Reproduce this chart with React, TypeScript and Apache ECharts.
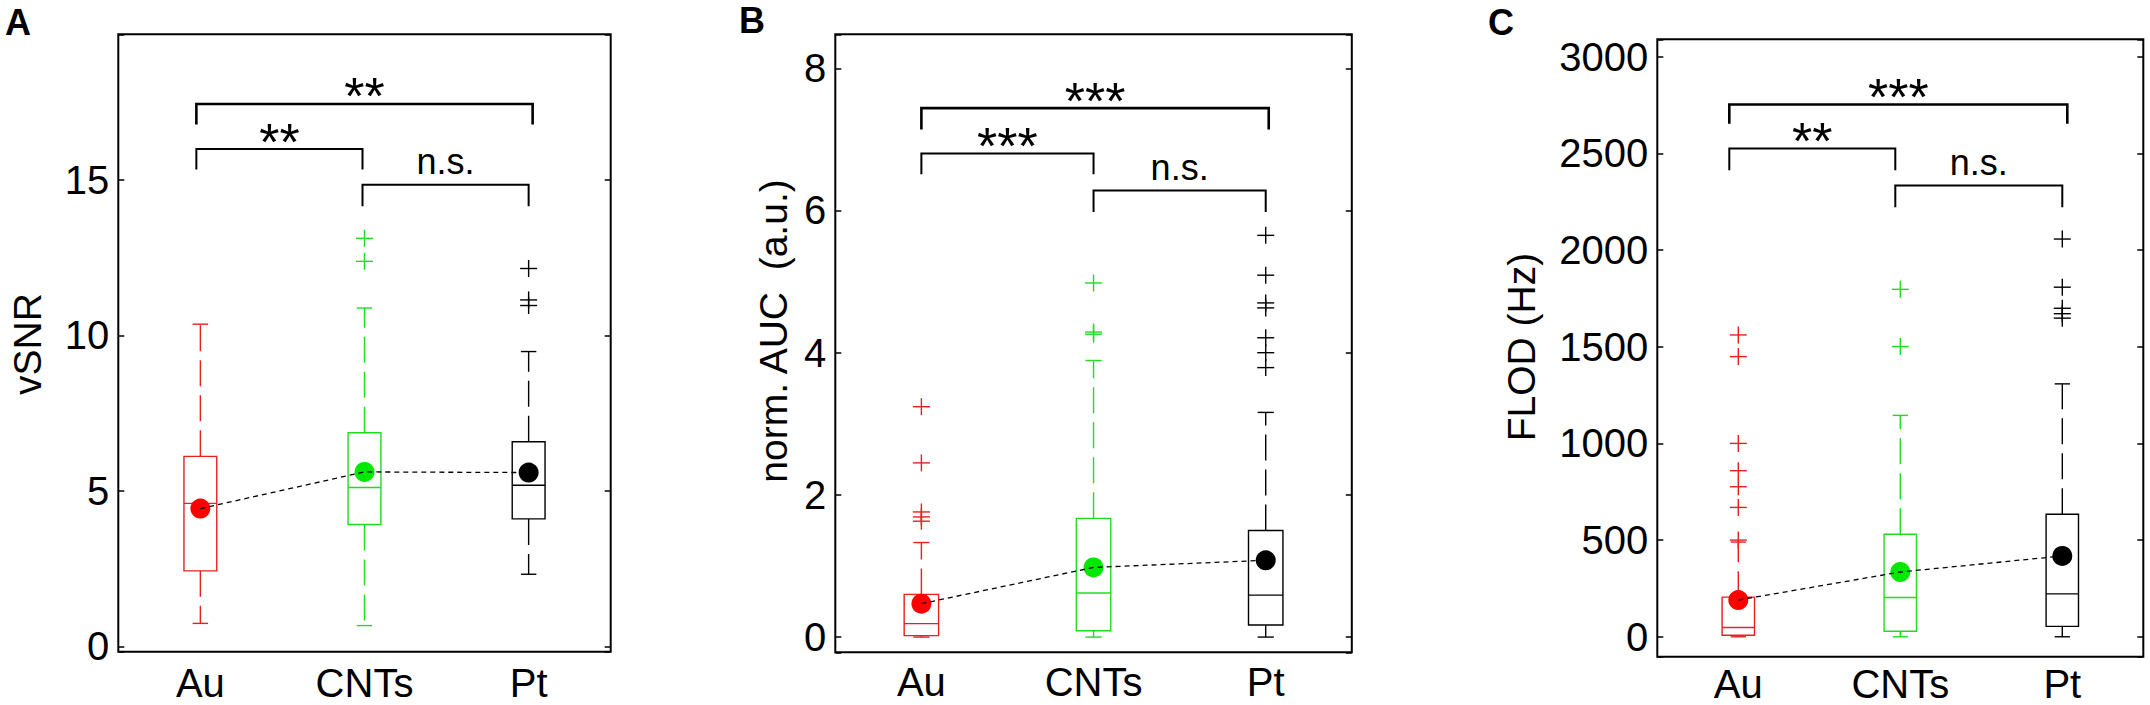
import React, { useEffect, useRef } from "react";
import * as echarts from "echarts";

// ---------- data ----------
const categories = ["Au", "CNTs", "Pt"];

// Panel A: vSNR  [min, Q1, median, Q3, max]
const vsnrBox = [
  [0.74, 2.43, 4.6, 6.11, 10.36],
  [0.67, 3.92, 5.11, 6.87, 10.88],
  [2.32, 4.1, 5.18, 6.58, 9.48],
];
const vsnrOutliers = [[], [12.38, 13.12], [10.96, 11.14, 12.15]];
const vsnrMean = [4.43, 5.61, 5.59];
const vsnrTicks = [0, 5, 10, 15];
const vsnrBrackets = [
  [0, 2, 17.44, 16.78],
  [0, 1, 15.99, 15.33],
  [1, 2, 14.84, 14.15],
];
const vsnrBracketLabels = ["**", "**", "n.s."];

// Panel B: norm. AUC
const aucBox = [
  [0, 0.02, 0.19, 0.6, 1.33],
  [0, 0.09, 0.62, 1.67, 3.89],
  [0, 0.17, 0.59, 1.5, 3.16],
];
const aucOutliers = [
  [1.63, 1.69, 1.76, 2.45, 3.24],
  [4.26, 4.29, 4.98],
  [3.79, 4.0, 4.21, 4.63, 4.7, 5.09, 5.65],
];
const aucMean = [0.47, 0.98, 1.08];
const aucTicks = [0, 2, 4, 6, 8];
const aucBrackets = [
  [0, 2, 7.44, 7.14],
  [0, 1, 6.8, 6.51],
  [1, 2, 6.28, 5.98],
];
const aucBracketLabels = ["***", "***", "n.s."];

// Panel C: FLOD (Hz)
const flodBox = [
  [0, 8, 48, 205, 490],
  [0, 29, 203, 530, 1145],
  [0, 54, 222, 634, 1308],
];
const flodOutliers = [
  [500, 669, 776, 859, 1000, 1449, 1561],
  [1501, 1797],
  [1648, 1671, 1699, 1808, 2057],
];
const flodMean = [190, 335, 418];
const flodTicks = [0, 500, 1000, 1500, 2000, 2500, 3000];
const flodBrackets = [
  [0, 2, 2753, 2653],
  [0, 1, 2525, 2413],
  [1, 2, 2334, 2222],
];
const flodBracketLabels = ["***", "**", "n.s."];

const yTitles = ["vSNR", "norm. AUC  (a.u.)", "FLOD (Hz)"];
const panelLetters = ["A", "B", "C"];

// ---------- layout / style ----------
const FONT = '"Liberation Sans", Arial, Helvetica, sans-serif';
const lineColors = ["#e82020", "#20dc20", "#000000"];
const dotColors = ["#ff0000", "#00e800", "#000000"];

const panels = [
  {
    grid: { left: 118.3, top: 34.3, width: 492.4, height: 617.4 },
    yMin: -0.17, yMax: 19.68, xMargin: 13,
    box: vsnrBox, out: vsnrOutliers, mean: vsnrMean, ticks: vsnrTicks,
    br: vsnrBrackets, brLabels: vsnrBracketLabels,
    brNudge: [[-4, 4], [-4, -2], [-2, 0]],
    letter: { x: 5, y: 22 }, title: { x: 27, y: 344 },
  },
  {
    grid: { left: 835.3, top: 34.3, width: 516.5, height: 618 },
    yMin: -0.214, yMax: 8.478, xMargin: 12,
    box: aucBox, out: aucOutliers, mean: aucMean, ticks: aucTicks,
    br: aucBrackets, brLabels: aucBracketLabels,
    brNudge: [[0, 3], [0, 0], [0, 0]],
    letter: { x: 739, y: 20 }, title: { x: 773, y: 331 },
  },
  {
    grid: { left: 1657.3, top: 39.3, width: 486, height: 617.4 },
    yMin: -103, yMax: 3090, xMargin: 9.5,
    box: flodBox, out: flodOutliers, mean: flodMean, ticks: flodTicks,
    br: flodBrackets, brLabels: flodBracketLabels,
    brNudge: [[-9, 5], [-9, -5], [-5, 0]],
    letter: { x: 1488, y: 22 }, title: { x: 1521, y: 347 },
  },
];

function buildOption() {
  const grid: any[] = [];
  const xAxis: any[] = [];
  const yAxis: any[] = [];
  const series: any[] = [];
  const graphic: any[] = [];

  panels.forEach((p, k) => {
    grid.push({
      ...p.grid,
      show: true,
      borderColor: "#000",
      borderWidth: 2,
      backgroundColor: "transparent",
    });
    xAxis.push({
      type: "category",
      gridIndex: k,
      data: categories,
      axisLine: { show: false },
      axisTick: { show: false },
      splitLine: { show: false },
      axisLabel: {
        fontSize: 40,
        lineHeight: 36,
        color: "#000",
        fontFamily: FONT,
        margin: p.xMargin,
      },
    });
    const step = p.ticks[1] - p.ticks[0];
    ["left", "right"].forEach((side) => {
      yAxis.push({
        type: "value",
        gridIndex: k,
        position: side,
        min: p.yMin,
        max: p.yMax,
        minInterval: step,
        maxInterval: step,
        axisLine: { show: false },
        splitLine: { show: false },
        axisTick: {
          show: true,
          inside: true,
          length: 6,
          lineStyle: { color: "#000", width: 1.5 },
        },
        axisLabel: {
          show: side === "left",
          fontSize: 40,
          color: "#000",
          fontFamily: FONT,
          margin: 9,
          formatter: (v: number) => {
            const t = p.ticks.find((tt) => Math.abs(tt - v) < 1e-6);
            return t === undefined ? "" : String(t);
          },
        },
      });
    });

    const yIdx = 2 * k;

    // boxes + whiskers
    series.push({
      type: "custom",
      xAxisIndex: k,
      yAxisIndex: yIdx,
      encode: { x: 0, y: [1, 2, 3, 4, 5] },
      data: p.box.map((b, i) => [i, ...b]),
      z: 2,
      renderItem: (params: any, api: any) => {
        const i = api.value(0);
        const lo = api.value(1), q1 = api.value(2), md = api.value(3);
        const q3 = api.value(4), hi = api.value(5);
        const band = api.size([1, 0])[0];
        const cx = api.coord([i, md])[0];
        const y = (v: number) => api.coord([i, v])[1];
        const hw = band * 0.1;
        const cw = band * 0.047;
        const stroke = lineColors[i];
        const solid = { stroke, lineWidth: 1.4, fill: "none" };
        const dashed = { stroke, lineWidth: 1.4, lineDash: [26, 9] };
        return {
          type: "group",
          children: [
            { type: "rect", shape: { x: cx - hw, y: y(q3), width: 2 * hw, height: y(q1) - y(q3) }, style: solid },
            { type: "line", shape: { x1: cx - hw, y1: y(md), x2: cx + hw, y2: y(md) }, style: solid },
            { type: "line", shape: { x1: cx, y1: y(q3), x2: cx, y2: y(hi) }, style: dashed },
            { type: "line", shape: { x1: cx, y1: y(q1), x2: cx, y2: y(lo) }, style: dashed },
            { type: "line", shape: { x1: cx - cw, y1: y(hi), x2: cx + cw, y2: y(hi) }, style: solid },
            { type: "line", shape: { x1: cx - cw, y1: y(lo), x2: cx + cw, y2: y(lo) }, style: solid },
          ],
        };
      },
    });

    // outliers (+)
    const outData: number[][] = [];
    p.out.forEach((arr, i) => arr.forEach((v) => outData.push([i, v])));
    series.push({
      type: "custom",
      xAxisIndex: k,
      yAxisIndex: yIdx,
      encode: { x: 0, y: 1 },
      data: outData,
      z: 2,
      renderItem: (params: any, api: any) => {
        const i = api.value(0);
        const pt = api.coord([i, api.value(1)]);
        const h = 8.5;
        const st = { stroke: lineColors[i], lineWidth: 1.4 };
        return {
          type: "group",
          children: [
            { type: "line", shape: { x1: pt[0] - h, y1: pt[1], x2: pt[0] + h, y2: pt[1] }, style: st },
            { type: "line", shape: { x1: pt[0], y1: pt[1] - h, x2: pt[0], y2: pt[1] + h }, style: st },
          ],
        };
      },
    });

    // means
    series.push({
      type: "scatter",
      xAxisIndex: k,
      yAxisIndex: yIdx,
      symbol: "circle",
      symbolSize: 20,
      z: 3,
      itemStyle: { opacity: 1 },
      data: p.mean.map((v, i) => ({
        value: [i, v],
        itemStyle: { color: dotColors[i], opacity: 1 },
      })),
    });
    series.push({
      type: "line",
      xAxisIndex: k,
      yAxisIndex: yIdx,
      symbol: "none",
      showSymbol: false,
      z: 4,
      lineStyle: { color: "#000", width: 1.3, type: [5, 4] },
      data: p.mean.map((v, i) => [i, v]),
    });

    // significance brackets
    series.push({
      type: "custom",
      xAxisIndex: k,
      yAxisIndex: yIdx,
      encode: { x: 0, y: 2 },
      data: p.br,
      z: 5,
      renderItem: (params: any, api: any) => {
        const idx = params.dataIndex;
        const i1 = api.value(0), i2 = api.value(1);
        const yb = api.coord([i1, api.value(2)])[1];
        const yl = api.coord([i1, api.value(3)])[1];
        const nudge = p.brNudge[idx];
        const x1 = api.coord([i1, 0])[0] + nudge[0];
        const x2 = api.coord([i2, 0])[0] + nudge[1];
        const label = p.brLabels[idx];
        const lw = idx === 0 ? 2.6 : 2;
        const st = { stroke: "#000", lineWidth: lw, fill: "none" };
        const isNs = label === "n.s.";
        return {
          type: "group",
          children: [
            { type: "polyline", shape: { points: [[x1, yl], [x1, yb], [x2, yb], [x2, yl]] }, style: st },
            {
              type: "text",
              x: (x1 + x2) / 2,
              y: isNs ? yb - 23 : yb - 7.5,
              style: {
                text: label,
                fill: "#000",
                fontSize: isNs ? 36 : 52,
                fontFamily: FONT,
                align: "center",
                verticalAlign: "middle",
              },
            },
          ],
        };
      },
    });

    graphic.push({
      type: "text",
      x: p.letter.x,
      y: p.letter.y,
      style: {
        text: panelLetters[k],
        fill: "#000",
        fontSize: 36,
        fontWeight: "bold",
        fontFamily: FONT,
        align: "left",
        verticalAlign: "middle",
      },
    });
    graphic.push({
      type: "text",
      x: p.title.x,
      y: p.title.y,
      rotation: Math.PI / 2,
      style: {
        text: yTitles[k],
        fill: "#000",
        fontSize: 39,
        fontFamily: FONT,
        align: "center",
        verticalAlign: "middle",
      },
    });
  });

  return {
    animation: false,
    backgroundColor: "#ffffff",
    grid,
    xAxis,
    yAxis,
    series,
    graphic,
  };
}

export default function App() {
  const ref = useRef<HTMLDivElement>(null);
  useEffect(() => {
    if (!ref.current) return;
    const chart = echarts.init(ref.current, undefined, { renderer: "svg" });
    chart.setOption(buildOption() as any);
    return () => chart.dispose();
  }, []);
  return (
    <div
      ref={ref}
      style={{ position: "absolute", left: 0, top: 0, width: 2150, height: 705, background: "#fff" }}
    />
  );
}
